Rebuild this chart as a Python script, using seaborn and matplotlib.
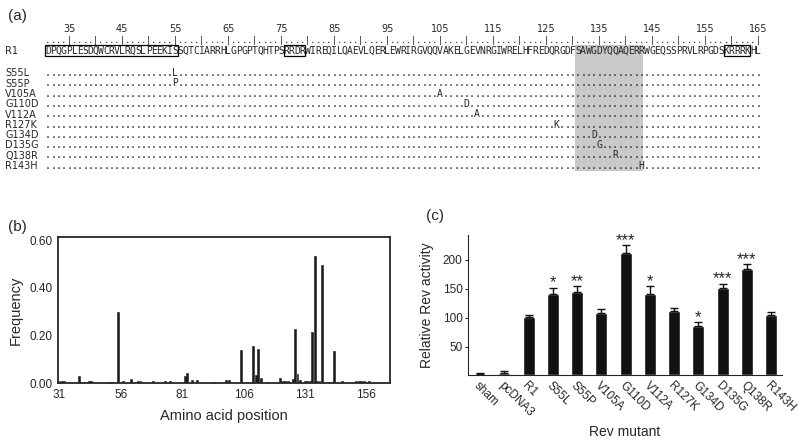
import numpy as np
import matplotlib
matplotlib.use("Agg")
import matplotlib.pyplot as plt
from matplotlib.patches import Rectangle
import seaborn as sns

# ---- data ----
seq_start = 31
r1_seq = ("DPQGPLESDQWCRVLRQSLPEEKISSQTCIARRHLGPGPTQHTPSRRDRWIREQILQAEVLQERLEW"
          "RIRGVQQVAKELGEVNRGIWRELHFREDQRGDFSAWGDYQQAQERRWGEQSSPRVLRPGDSKRRRKHL")
boxed_regions = [(31, 55), (76, 79), (159, 163)]
shaded_region = (131, 143)
ruler_labels = list(range(35, 166, 10))

mutants = ["S55L", "S55P", "V105A", "G110D", "V112A", "R127K",
           "G134D", "D135G", "Q138R", "R143H"]

# panel b: mutation frequency per amino acid position
pos_b = [31, 32, 33, 39, 41, 43, 44, 51, 52, 55, 57, 60, 63, 64, 69, 74, 76,
         82, 83, 85, 87, 94, 99, 100, 105, 110, 111, 112, 113, 116, 121, 122,
         123, 124, 126, 127, 128, 129, 131, 132, 133, 134, 135, 136, 137, 138,
         141, 142, 143, 146, 152, 153, 154, 155, 157, 162]
freq_b = [0.007, 0.007, 0.007, 0.029, 0.006, 0.007, 0.007, 0.006, 0.006, 0.297,
          0.007, 0.017, 0.007, 0.007, 0.007, 0.010, 0.007, 0.030, 0.040, 0.012,
          0.012, 0.006, 0.012, 0.013, 0.137, 0.156, 0.033, 0.141, 0.020, 0.006,
          0.020, 0.007, 0.007, 0.007, 0.015, 0.225, 0.037, 0.012, 0.007, 0.007,
          0.007, 0.214, 0.535, 0.007, 0.008, 0.494, 0.006, 0.006, 0.133, 0.007,
          0.007, 0.007, 0.007, 0.007, 0.007, 0.006]
ticks_b = [31, 56, 81, 106, 131, 156]

# panel c: relative Rev activity
labels_c = ["sham", "pcDNA3", "R1", "S55L", "S55P", "V105A", "G110D", "V112A",
            "R127K", "G134D", "D135G", "Q138R", "R143H"]
activity_c = [2, 4, 101, 141, 145, 108, 211, 141, 111, 85, 151, 185, 104]
error_c = [1.5, 3, 3, 11, 10, 7, 14, 14, 5, 7, 8, 7, 5]
stars_c = ["", "", "", "*", "**", "", "***", "*", "", "*", "***", "***", ""]

sns.set_style("ticks")
plt.rcParams['font.family'] = ['Liberation Sans', 'DejaVu Sans']

fig = plt.figure(figsize=(8, 4.43), dpi=100)

# ---- panel (a): alignment, drawn in pixel-like coordinates ----
ax_a = fig.add_axes([0, 0, 1, 1])
ax_a.set_xlim(21.94, 172.9)
ax_a.set_ylim(443, 0)
ax_a.axis("off")

mono = dict(family="DejaVu Sans Mono", fontsize=7)
lab = dict(family="DejaVu Sans", fontsize=7)
ax_a.text(0.01, 0.965, "(a)", transform=fig.transFigure, fontsize=11,
          ha="left", va="center")

positions = np.arange(seq_start, seq_start + len(r1_seq))
for p in positions:
    ax_a.text(p, 43, "|" if p % 5 == 0 else ".", ha="center", va="baseline",
              family="DejaVu Sans Mono", fontsize=6.4)
for p in ruler_labels:
    ax_a.text(p, 29, str(p), ha="center", va="center", **lab)

ax_a.add_patch(Rectangle((shaded_region[0] - 0.5, 45),
                         shaded_region[1] - shaded_region[0] + 0.7, 126,
                         color="#c9c9c9", lw=0, zorder=0))
ax_a.text(22.9, 50.5, "R1", ha="left", va="center", **lab)
for p, ch in zip(positions, r1_seq):
    ax_a.text(p, 50.8, ch, ha="center", va="center", **mono)
for s, e in boxed_regions:
    ax_a.add_patch(Rectangle((s - 0.5, 45.3), e - s + 1, 10.8, fill=False,
                             lw=0.9, ec="black"))

for i, m in enumerate(mutants):
    y = 73.3 + i * 10.3
    mpos = int(m[1:-1])
    ax_a.text(22.9, y, m, ha="left", va="center", **lab)
    for p in positions:
        ch = m[-1] if p == mpos else "."
        ax_a.text(p, y + 2.8, ch, ha="center", va="baseline", **mono)

# ---- panel (b): frequency ----
ax_b = fig.add_axes([0.0725, 0.1354, 0.415, 0.3296])
sns.barplot(x=pos_b, y=freq_b, native_scale=True, color="#1a1a1a",
            saturation=1, width=0.75, edgecolor="#1a1a1a", linewidth=0.4,
            ax=ax_b)
ax_b.set_xlim(30.4, 165.7)
ax_b.set_ylim(0, 0.613)
ax_b.set_xticks(ticks_b)
ax_b.set_yticks([0, 0.2, 0.4, 0.6])
ax_b.set_yticklabels(["0.00", "0.20", "0.40", "0.60"])
ax_b.tick_params(labelsize=8.5, length=0, pad=4)
for sp in ax_b.spines.values():
    sp.set_linewidth(1.3)
ax_b.set_xlabel("Amino acid position", fontsize=10.5, labelpad=6)
ax_b.set_ylabel("Frequency", fontsize=10.5, labelpad=5)
fig.text(0.01, 0.488, "(b)", fontsize=11, ha="left", va="center")

# ---- panel (c): Rev activity ----
ax_c = fig.add_axes([0.585, 0.1524, 0.3925, 0.3172])
sns.barplot(x=labels_c, y=activity_c, order=labels_c, color="#111111",
            saturation=1, width=0.5, ax=ax_c)
xs = np.arange(len(labels_c))
ax_c.errorbar(xs, activity_c, yerr=[np.zeros(len(xs)), error_c], fmt="none",
              ecolor="#111111", elinewidth=1, capsize=3, capthick=1)
for x, a, e, s in zip(xs, activity_c, error_c, stars_c):
    if s:
        ax_c.annotate(s, (x, a + e), xytext=(0, -2), textcoords="offset points",
                      ha="center", va="bottom", fontsize=12)
ax_c.set_xlim(-0.5, 12.45)
ax_c.set_ylim(0, 243)
ax_c.set_yticks([50, 100, 150, 200])
sns.despine(ax=ax_c)
ax_c.spines["left"].set_linewidth(0.8)
ax_c.spines["bottom"].set_linewidth(0.8)
ax_c.tick_params(axis="y", labelsize=8.5, length=2, pad=2)
ax_c.tick_params(axis="x", labelsize=8.5, length=0, pad=3)
plt.setp(ax_c.get_xticklabels(), rotation=-45, ha="left",
         rotation_mode="anchor")
ax_c.set_xlabel("Rev mutant", fontsize=10, labelpad=4)
ax_c.set_ylabel("Relative Rev activity", fontsize=10, labelpad=6)
fig.text(0.533, 0.512, "(c)", fontsize=11, ha="left", va="center")

fig.savefig("out.png", dpi=100)
